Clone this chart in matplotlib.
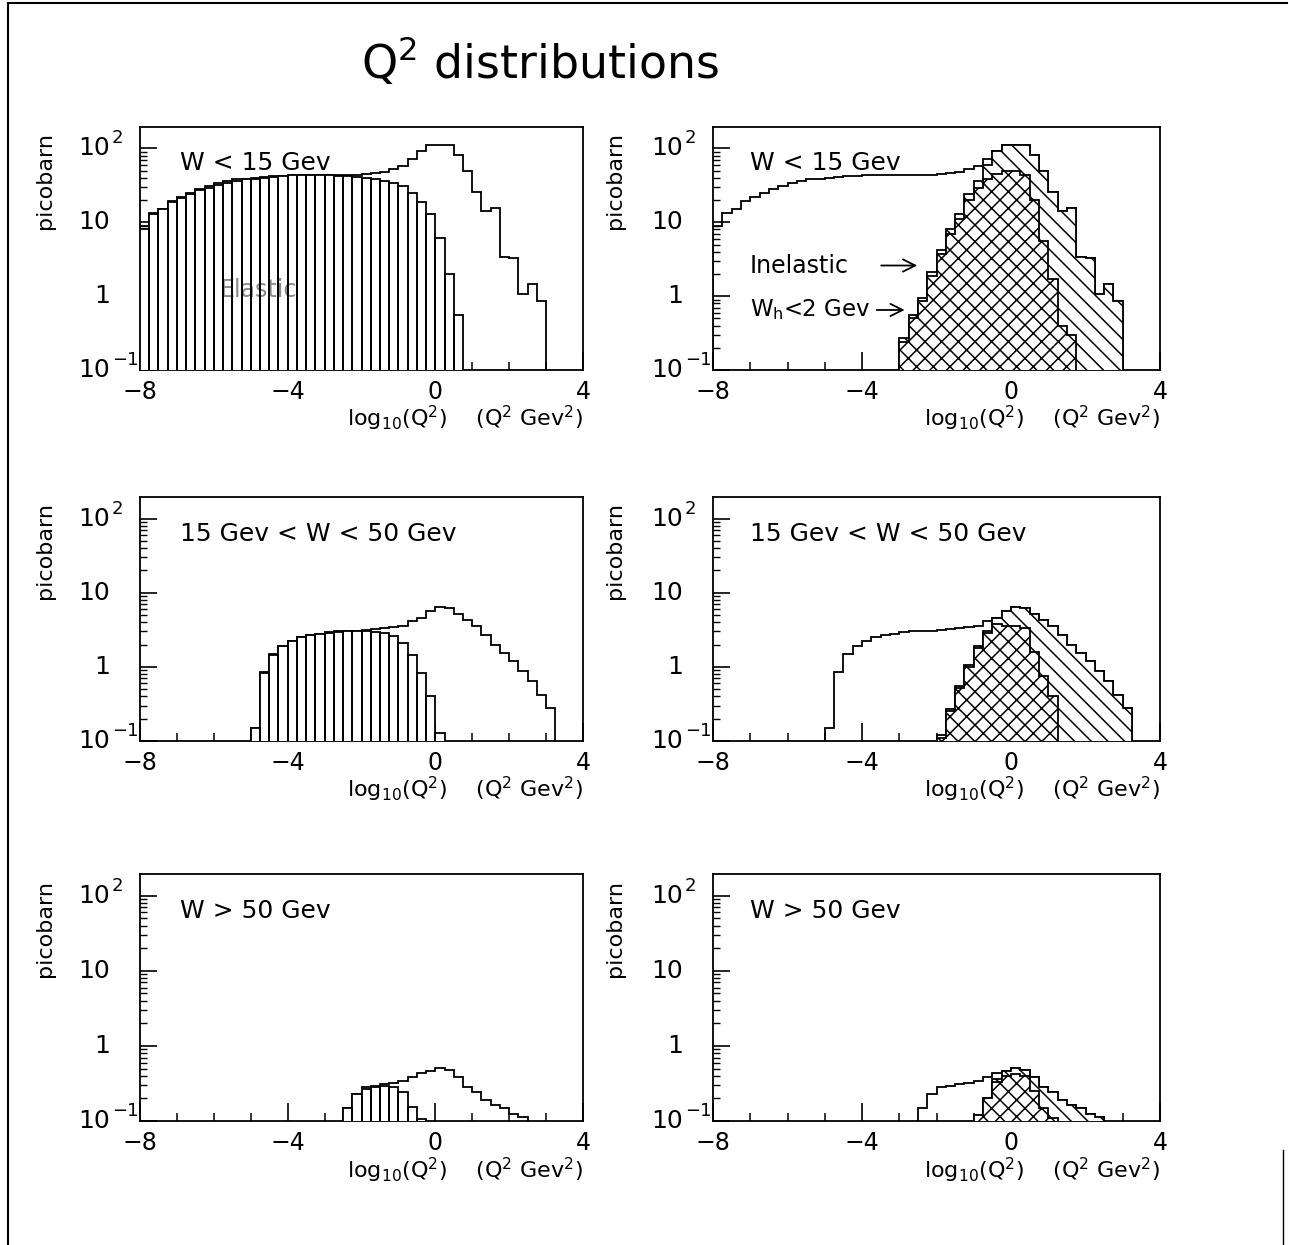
import numpy as np
import matplotlib
matplotlib.use("Agg")
import matplotlib.pyplot as plt
from matplotlib import transforms
from matplotlib.lines import Line2D
from matplotlib.ticker import FixedLocator, MultipleLocator, LogLocator, NullFormatter

plt.rcParams['font.family'] = ['DejaVu Sans']
plt.rcParams['hatch.linewidth'] = 1.1
plt.rcParams['mathtext.fontset'] = 'dejavusans'

# ---------------- data (picobarn per bin, log10(Q^2) bins of 0.25) ----------------
BIN_WIDTH = 0.25
X_RANGE = (-8, 4)
Y_RANGE = (0.1, 195)
x_major_ticks = [-8, -4, 0, 4]
y_major_ticks = [0.1, 1, 10, 100]
y_tick_base = ["10", "1", "10", "10"]
y_tick_exp = ["\u22121", "", "", "2"]

row_titles = ["W < 15 Gev", "15 Gev < W < 50 Gev", "W > 50 Gev"]

# Row 1 : W < 15 GeV
w1_total_start = -8.0
w1_total = [9, 13.5, 15, 19.5, 22, 25, 28, 31, 34, 36,
            38, 39, 40, 41, 42, 42.5, 43.5, 44, 44, 44,
            44, 44, 44, 44, 45, 46, 48, 52, 58, 72,
            93, 112, 113, 110, 82, 49, 26, 14, 15.8, 3.4,
            3.3, 1.07, 1.45, 0.85]
w1_elastic_start = -8.0
w1_elastic = [8, 13, 15, 19, 21, 24, 27, 29, 32, 34,
              36, 38, 39, 40, 41, 42, 43, 43, 43, 43,
              43, 42, 42, 41, 40, 38, 36, 34, 31, 25,
              19, 13, 6.2, 2.0, 0.55]
w1_inel_start = -3.0
w1_inel = [0.27, 0.55, 0.95, 2.1, 4.2, 8, 13, 24, 36, 60,
           93, 112, 113, 110, 82, 49, 26, 14, 15.8, 3.4,
           3.3, 1.07, 1.45, 0.85]
w1_lowwh_start = -3.0
w1_lowwh = [0.24, 0.5, 0.85, 1.9, 3.7, 6.9, 11, 20, 29, 38,
            45, 50, 50, 44, 20, 5.6, 1.7, 0.4, 0.3]

# Row 2 : 15 GeV < W < 50 GeV
w2_total_start = -5.0
w2_total = [0.15, 0.84, 1.47, 1.9, 2.2, 2.5, 2.7, 2.8, 2.95, 3.0,
            3.05, 3.05, 3.1, 3.2, 3.3, 3.4, 3.6, 4.2, 4.6, 5.7,
            6.4, 6.3, 5.2, 4.3, 3.5, 2.7, 2.0, 1.55, 1.2, 0.88,
            0.64, 0.42, 0.28]
w2_elastic_start = -5.0
w2_elastic = [0.15, 0.83, 1.45, 1.9, 2.2, 2.5, 2.7, 2.8, 2.9, 2.95,
              3.0, 3.0, 3.0, 2.95, 2.85, 2.6, 2.1, 1.45, 0.83, 0.4,
              0.13]
w2_inel_start = -2.0
w2_inel = [0.12, 0.27, 0.55, 1.05, 1.9, 3.0, 4.6, 5.7, 6.4, 6.3,
           5.2, 4.3, 3.5, 2.7, 2.0, 1.55, 1.2, 0.88, 0.64, 0.42,
           0.28]
w2_lowwh_start = -2.0
w2_lowwh = [0.11, 0.25, 0.52, 0.98, 1.8, 2.9, 3.8, 3.6, 3.5, 3.3,
            1.6, 0.75, 0.4]

# Row 3 : W > 50 GeV
w3_total_start = -2.5
w3_total = [0.15, 0.23, 0.28, 0.29, 0.31, 0.32, 0.34, 0.38, 0.43, 0.47,
            0.51, 0.48, 0.39, 0.28, 0.24, 0.19, 0.165, 0.15, 0.125, 0.114]
w3_elastic_start = -2.5
w3_elastic = [0.15, 0.23, 0.27, 0.28, 0.29, 0.28, 0.24, 0.155, 0.105]
w3_inel_start = -1.0
w3_inel = [0.12, 0.2, 0.36, 0.47, 0.51, 0.48, 0.39, 0.28, 0.24, 0.19,
           0.165, 0.15, 0.125, 0.114]
w3_lowwh_start = -1.0
w3_lowwh = [0.12, 0.2, 0.33, 0.40, 0.42, 0.40, 0.25, 0.15, 0.11]

rows = [
    dict(total=(w1_total_start, w1_total), elastic=(w1_elastic_start, w1_elastic),
         inel=(w1_inel_start, w1_inel), lowwh=(w1_lowwh_start, w1_lowwh)),
    dict(total=(w2_total_start, w2_total), elastic=(w2_elastic_start, w2_elastic),
         inel=(w2_inel_start, w2_inel), lowwh=(w2_lowwh_start, w2_lowwh)),
    dict(total=(w3_total_start, w3_total), elastic=(w3_elastic_start, w3_elastic),
         inel=(w3_inel_start, w3_inel), lowwh=(w3_lowwh_start, w3_lowwh)),
]


def bin_edges(start, values):
    return start + BIN_WIDTH * np.arange(len(values) + 1)


# ---------------- layout ----------------
W, H = 1289, 1245
fig = plt.figure(figsize=(W / 100, H / 100), dpi=100)
col_left = [140, 713]
col_width = [443, 447]
row_top = [127, 497, 874]
row_bot = [370, 741, 1121]

LW = 1.3
FS_TICK = 17
FS_LABEL = 16


def style_axes(ax):
    ax.set_yscale('log')
    ax.set_xlim(*X_RANGE)
    ax.set_ylim(*Y_RANGE)
    for sp in ax.spines.values():
        sp.set_linewidth(LW)
    ax.xaxis.set_major_locator(FixedLocator(x_major_ticks))
    ax.xaxis.set_minor_locator(MultipleLocator(1))
    ax.tick_params(axis='x', which='major', direction='in', length=13, width=1.2,
                   labelsize=FS_TICK, pad=7, top=False)
    ax.tick_params(axis='x', which='minor', direction='in', length=6, width=1.1, top=False)
    ax.yaxis.set_major_locator(FixedLocator(y_major_ticks))
    ax.yaxis.set_minor_locator(LogLocator(base=10, subs=np.arange(2, 10)))
    ax.yaxis.set_minor_formatter(NullFormatter())
    ax.tick_params(axis='y', which='major', direction='in', length=12, width=1.2,
                   right=False, labelleft=False)
    ax.tick_params(axis='y', which='minor', direction='in', length=5, width=1.0, right=False)
    # y tick labels: base right-aligned, exponent hanging to the right
    trans = transforms.blended_transform_factory(ax.transAxes, ax.transData)
    base_tr = transforms.offset_copy(trans, fig=fig, x=-30, y=0, units='dots')
    for v, b, e in zip(y_major_ticks, y_tick_base, y_tick_exp):
        ax.text(0, v, b, transform=base_tr, ha='right', va='center', fontsize=18)
        if e:
            exp_tr = transforms.offset_copy(trans, fig=fig, x=-28, y=10, units='dots')
            ax.text(0, v, e, transform=exp_tr, ha='left', va='center', fontsize=13)
    ax.text(1.0, -0.2, r"log$_{10}$(Q$^{2}$)    (Q$^{2}$ Gev$^{2}$)",
            transform=ax.transAxes, ha='right', va='center', fontsize=16)


for r, data in enumerate(rows):
    bottom = 1 - row_bot[r] / H
    height = (row_bot[r] - row_top[r]) / H
    for c in range(2):
        ax = fig.add_axes([col_left[c] / W, bottom, col_width[c] / W, height])
        style_axes(ax)
        ts, tv = data['total']
        ax.stairs(tv, bin_edges(ts, tv), baseline=1e-4, fill=False,
                  color='black', lw=LW, zorder=2)
        if c == 0:
            if r == 0:
                ax.text(0.18, 0.33, "Elastic", transform=ax.transAxes, fontsize=17,
                        color='#8a8a8a', ha='left', va='center', zorder=5)
            es, ev = data['elastic']
            e_edges = bin_edges(es, ev)
            centers = 0.5 * (e_edges[:-1] + e_edges[1:])
            ax.bar(centers, ev, width=BIN_WIDTH, bottom=1e-4, facecolor='none',
                   edgecolor='black', linewidth=LW, zorder=6)
            ax.stairs(ev, e_edges, baseline=1e-4, fill=True, facecolor='white',
                      edgecolor='none', zorder=3)
        else:
            is_, iv = data['inel']
            ax.stairs(iv, bin_edges(is_, iv), baseline=1e-4, fill=True,
                      facecolor='white', edgecolor='black', hatch='\\\\',
                      lw=LW, zorder=3)
            ls, lv = data['lowwh']
            ax.stairs(lv, bin_edges(ls, lv), baseline=1e-4, fill=True,
                      facecolor='white', edgecolor='black', hatch='xx',
                      lw=LW, zorder=4)
            if r == 0:
                ax.text(0.083, 0.43, "Inelastic", transform=ax.transAxes, fontsize=17,
                        ha='left', va='center', zorder=6)
                ax.annotate('', xy=(0.463, 0.43), xytext=(0.37, 0.43),
                            xycoords='axes fraction',
                            arrowprops=dict(arrowstyle='->', lw=1.3, mutation_scale=22))
                ax.text(0.083, 0.247, r"W$_{\rm h}$<2 Gev", transform=ax.transAxes,
                        fontsize=16.5, ha='left', va='center', zorder=6)
                ax.annotate('', xy=(0.435, 0.247), xytext=(0.36, 0.247),
                            xycoords='axes fraction',
                            arrowprops=dict(arrowstyle='->', lw=1.3, mutation_scale=22))
        ax.text(0.09 if c == 0 else 0.083, 0.85, row_titles[r], transform=ax.transAxes,
                fontsize=18, ha='left', va='center', zorder=7)
        xlab = -0.214 if c == 0 else -0.219
        ax.text(xlab, 0.78, "picobarn", transform=ax.transAxes, rotation=90,
                ha='center', va='center', fontsize=FS_LABEL)

fig.text(540 / W, 1 - 62 / H, r"Q$^{2}$ distributions", ha='center', va='center', fontsize=33)

# page frame
fig.add_artist(Line2D([8 / W, 8 / W], [0, 1 - 3 / H], transform=fig.transFigure,
                      color='black', lw=1.5))
fig.add_artist(Line2D([8 / W, 1287 / W], [1 - 3 / H, 1 - 3 / H], transform=fig.transFigure,
                      color='black', lw=1.5))
fig.add_artist(Line2D([1283 / W, 1283 / W], [0, 1 - 1150 / H], transform=fig.transFigure,
                      color='black', lw=1.0))

fig.savefig("out.png", dpi=100, facecolor='white')
